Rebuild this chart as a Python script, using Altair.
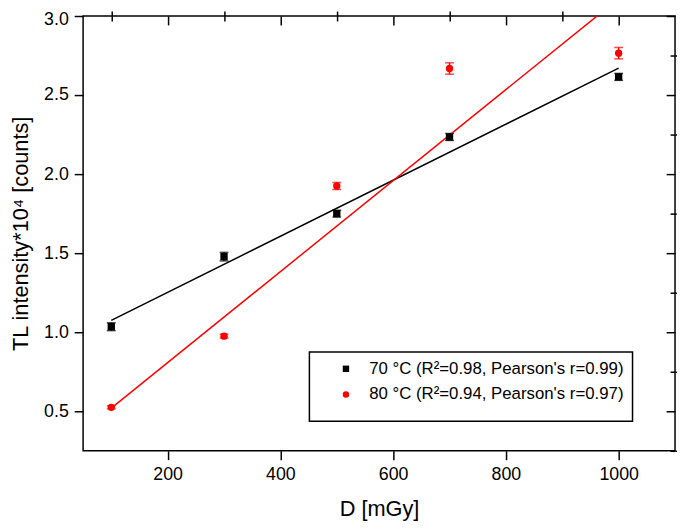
import altair as alt
import pandas as pd

# ---- data ----
dose = [100, 300, 500, 700, 1000]
tl_70 = [1.035, 1.478, 1.750, 2.235, 2.615]
err_70 = [0.025, 0.027, 0.022, 0.022, 0.022]
tl_80 = [0.525, 0.975, 1.925, 2.668, 2.765]
err_80 = [0.010, 0.012, 0.022, 0.036, 0.036]

series_labels = ["70 \u00b0C (R\u00b2=0.98, Pearson's r=0.99)",
                 "80 \u00b0C (R\u00b2=0.94, Pearson's r=0.97)"]
series_colors = ["#000000", "#ff0000"]
series_shapes = ["square", "circle"]

# fitted lines (end points)
fit_x = [100, 1000]
fit_70 = [1.075, 2.670]
fit_80 = [0.520, 3.110]

x_major = [200, 400, 600, 800, 1000]
x_minor = [100, 300, 500, 700, 900]
y_major = [0.5, 1.0, 1.5, 2.0, 2.5, 3.0]
y_minor = [0.25, 0.75, 1.25, 1.75, 2.25, 2.75]

FONT = "Liberation Sans"

# ---- tables ----
rows = []
for lab, ys, es in [(series_labels[0], tl_70, err_70), (series_labels[1], tl_80, err_80)]:
    for d, v, e in zip(dose, ys, es):
        rows.append({"D": d, "TL": v, "lo": v - e, "hi": v + e, "series": lab})
df = pd.DataFrame(rows)

fit_rows = []
for lab, ys in [(series_labels[0], fit_70), (series_labels[1], fit_80)]:
    for d, v in zip(fit_x, ys):
        fit_rows.append({"D": d, "TL": v, "series": lab})
df_fit = pd.DataFrame(fit_rows)

sx = alt.Scale(domain=[50, 1100], nice=False, zero=False)
sy = alt.Scale(domain=[0.25, 3.0], nice=False, zero=False)


def axis_layer(xaxis, yaxis):
    return alt.Chart(df).mark_point(opacity=0).encode(
        x=alt.X("D:Q", scale=sx, axis=xaxis),
        y=alt.Y("TL:Q", scale=sy, axis=yaxis),
    )


common = dict(domain=False, grid=False, tickColor="black", tickWidth=1.5)

ax_bottom_major = alt.Axis(values=x_major, tickSize=9, labelFontSize=18, labelPadding=6,
                           format="d", labelFlush=False, title="D [mGy]", titleFontSize=22,
                           titleY=65, titleBaseline="alphabetic", **common)
ax_bottom_minor = alt.Axis(values=x_minor, tickSize=5, labels=False, title=None, **common)
ax_top_major = alt.Axis(orient="top", values=x_major, tickSize=9, offset=-9,
                        labels=False, title=None, **common)
ax_top_minor = alt.Axis(orient="top", values=x_minor, tickSize=5, offset=-5,
                        labels=False, title=None, **common)

ax_left_major = alt.Axis(values=y_major, tickSize=9, labelFontSize=18, labelPadding=6,
                         format=".1f", labelFlush=True, labelFlushOffset=5,
                         title="TL intensity*10\u2074 [counts]",
                         titleFontSize=22, titleAngle=270, titleX=-56, titleY=220,
                         titleAlign="center", titleBaseline="alphabetic", **common)
ax_left_minor = alt.Axis(values=y_minor, tickSize=5, labels=False, title=None, **common)
ax_right_major = alt.Axis(orient="right", values=y_major, tickSize=9, offset=-9,
                          labels=False, title=None, **common)
ax_right_minor = alt.Axis(orient="right", values=y_minor, tickSize=5, offset=-5,
                          labels=False, title=None, **common)

layers = [
    axis_layer(ax_bottom_major, ax_left_major),
    axis_layer(ax_bottom_minor, ax_left_minor),
    axis_layer(ax_top_major, ax_right_major),
    axis_layer(ax_top_minor, ax_right_minor),
]

for lab, col in zip(series_labels, series_colors):
    fit = alt.Chart(df_fit).transform_filter(alt.datum.series == lab).mark_line(
        color=col, strokeWidth=1.5, clip=True).encode(
        x=alt.X("D:Q", scale=sx, axis=None),
        y=alt.Y("TL:Q", scale=sy, axis=None),
    )
    bars = alt.Chart(df).transform_filter(alt.datum.series == lab).mark_rule(
        color=col, strokeWidth=1.5).encode(
        x=alt.X("D:Q", scale=sx, axis=None),
        y=alt.Y("lo:Q", scale=sy, axis=None),
        y2="hi:Q",
    )
    cap_lo = alt.Chart(df).transform_filter(alt.datum.series == lab).mark_tick(
        color=col, orient="horizontal", size=9, thickness=1.5).encode(
        x=alt.X("D:Q", scale=sx, axis=None),
        y=alt.Y("lo:Q", scale=sy, axis=None),
    )
    cap_hi = alt.Chart(df).transform_filter(alt.datum.series == lab).mark_tick(
        color=col, orient="horizontal", size=9, thickness=1.5).encode(
        x=alt.X("D:Q", scale=sx, axis=None),
        y=alt.Y("hi:Q", scale=sy, axis=None),
    )
    layers += [fit, bars, cap_lo, cap_hi]

leg = alt.Legend(orient="none", legendX=229, legendY=340, title=" ", titleOrient="bottom",
                 titleFontSize=9, titlePadding=1, padding=8.5, strokeColor="black",
                 fillColor="white", labelFont=FONT, labelFontSize=17, labelColor="black",
                 labelLimit=600, symbolSize=42, symbolOffset=20, labelOffset=15,
                 rowPadding=8, symbolStrokeWidth=0)

points = alt.Chart(df).mark_point(filled=True, size=55, opacity=1).encode(
    x=alt.X("D:Q", scale=sx, axis=None),
    y=alt.Y("TL:Q", scale=sy, axis=None),
    color=alt.Color("series:N", scale=alt.Scale(domain=series_labels, range=series_colors), legend=leg),
    shape=alt.Shape("series:N", scale=alt.Scale(domain=series_labels, range=series_shapes), legend=leg),
)
layers.append(points)

chart = alt.layer(*layers).resolve_axis(x="independent", y="independent").properties(
    width=599, height=440,
    autosize=alt.AutoSizeParams(type="none"),
    padding={"left": 76, "top": 5, "right": 2, "bottom": 73},
).configure_view(stroke="black", strokeWidth=1.5).configure_axis(
    labelFont=FONT, titleFont=FONT, labelColor="black", titleColor="black",
    titleFontWeight="normal", labelOverlap=False,
).configure_legend(strokeWidth=1.5)

chart.save("out.html", embed_options={"renderer": "svg", "actions": False})
